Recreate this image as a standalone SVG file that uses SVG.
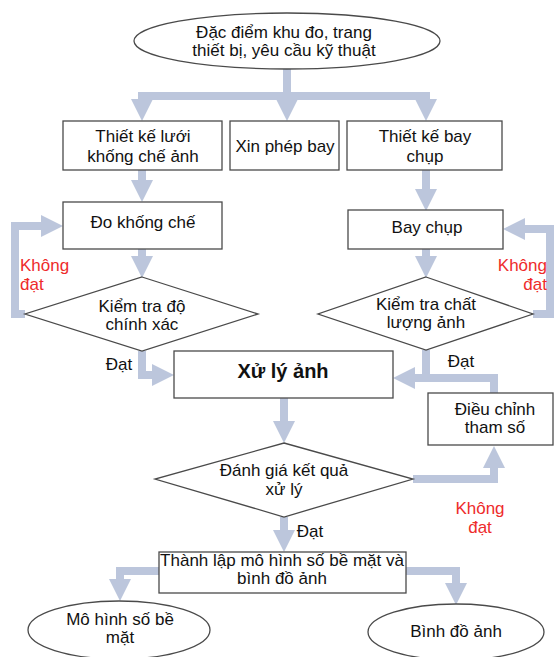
<svg xmlns="http://www.w3.org/2000/svg" width="554" height="657" viewBox="0 0 554 657">
  <style>
    .shape { fill: #ffffff; stroke: #4a4a4a; stroke-width: 1.3; }
    .lbl { font-family: "Liberation Sans", Arial, sans-serif; font-size: 17px; fill: #111111; text-anchor: middle; }
    .bold { font-weight: bold; font-size: 20px; }
    .red { fill: #ee2b2b; }
    .start { text-anchor: start; }
    .end { text-anchor: end; }
    .flow { fill: none; stroke: #bcc6dc; stroke-width: 8; stroke-linejoin: miter; }
    .flow-head { fill: none; stroke: #bcc6dc; stroke-width: 8; marker-end: url(#head); }
  </style>
  <defs>
    <marker id="head" viewBox="0 0 22 22" markerWidth="22" markerHeight="22" markerUnits="userSpaceOnUse" refX="0" refY="11" orient="auto">
      <path d="M0,0 L22,11 L0,22 z" fill="#bcc6dc"/>
    </marker>
  </defs>
  <rect width="554" height="657" fill="#ffffff"/>

  <!-- connectors -->
  <g id="connectors">
    <path class="flow" d="M138,96 H430"/>
    <path class="flow-head" d="M287,68 V99"/>
    <path class="flow-head" d="M142,92 V99"/>
    <path class="flow-head" d="M426,92 V99"/>
    <path class="flow-head" d="M142,170 V180"/>
    <path class="flow-head" d="M426,170 V189"/>
    <path class="flow-head" d="M142,249 V256"/>
    <path class="flow-head" d="M426,249 V256"/>
    <path class="flow-head" d="M25,314 H15 V226 H41"/>
    <path class="flow-head" d="M533,314 H550 V229 H525"/>
    <path class="flow-head" d="M142,351 V375 H152"/>
    <path class="flow-head" d="M426,350 V378 H415"/>
    <path class="flow" d="M494,393 V378 H426"/>
    <path class="flow-head" d="M284,398 V421"/>
    <path class="flow-head" d="M413,479 H494 V468"/>
    <path class="flow-head" d="M284,517 V530"/>
    <path class="flow-head" d="M159,571 H120 V579"/>
    <path class="flow-head" d="M406,571 H456 V583"/>
  </g>

  <!-- flow labels -->
  <g id="labels">
    <text class="lbl red start" x="20" y="271">Không</text>
    <text class="lbl red start" x="20" y="290">đạt</text>
    <text class="lbl red end" x="547" y="271">Không</text>
    <text class="lbl red end" x="547" y="290">đạt</text>
    <text class="lbl" x="119" y="370">Đạt</text>
    <text class="lbl" x="461" y="367">Đạt</text>
    <text class="lbl red" x="480" y="514">Không</text>
    <text class="lbl red" x="480" y="533">đạt</text>
    <text class="lbl" x="310" y="537">Đạt</text>
  </g>

  <g id="n-input">
    <ellipse class="shape" cx="287" cy="41" rx="153" ry="28"/>
    <text class="lbl" x="284" y="38">Đặc điểm khu đo, trang</text>
    <text class="lbl" x="284" y="56">thiết bị, yêu cầu kỹ thuật</text>
  </g>

  <g id="n-grid-design">
    <rect class="shape" x="63" y="121" width="159" height="49"/>
    <text class="lbl" x="143" y="142">Thiết kế lưới</text>
    <text class="lbl" x="143" y="162">khống chế ảnh</text>
  </g>

  <g id="n-permit">
    <rect class="shape" x="230" y="121" width="109" height="49"/>
    <text class="lbl" x="285" y="152">Xin phép bay</text>
  </g>

  <g id="n-flight-design">
    <rect class="shape" x="347" y="121" width="155" height="49"/>
    <text class="lbl" x="425" y="142">Thiết kế bay</text>
    <text class="lbl" x="425" y="162">chụp</text>
  </g>

  <g id="n-control-survey">
    <rect class="shape" x="63" y="202" width="159" height="47"/>
    <text class="lbl" x="143" y="228">Đo khống chế</text>
  </g>

  <g id="n-flight">
    <rect class="shape" x="348" y="210" width="155" height="39"/>
    <text class="lbl" x="427" y="233">Bay chụp</text>
  </g>

  <g id="n-check-accuracy">
    <polygon class="shape" points="142,277 258,314 142,351 25,314"/>
    <text class="lbl" x="142" y="312">Kiểm tra độ</text>
    <text class="lbl" x="142" y="330">chính xác</text>
  </g>

  <g id="n-check-quality">
    <polygon class="shape" points="426,277 533,314 426,350 318,314"/>
    <text class="lbl" x="426" y="310">Kiểm tra chất</text>
    <text class="lbl" x="426" y="328">lượng ảnh</text>
  </g>

  <g id="n-processing">
    <rect class="shape" x="174" y="351" width="219" height="47"/>
    <text class="lbl bold" x="283" y="378">Xử lý ảnh</text>
  </g>

  <g id="n-adjust">
    <rect class="shape" x="428" y="393" width="125" height="52"/>
    <text class="lbl" x="495" y="415">Điều chỉnh</text>
    <text class="lbl" x="495" y="433">tham số</text>
  </g>

  <g id="n-evaluate">
    <polygon class="shape" points="284,443 413,479 284,517 155,479"/>
    <text class="lbl" x="284" y="476">Đánh giá kết quả</text>
    <text class="lbl" x="284" y="495">xử lý</text>
  </g>

  <g id="n-build">
    <rect class="shape" x="159" y="552" width="247" height="41"/>
    <text class="lbl" x="282" y="566">Thành lập mô hình số bề mặt và</text>
    <text class="lbl" x="282" y="584">bình đồ ảnh</text>
  </g>

  <g id="n-dsm">
    <ellipse class="shape" cx="119" cy="630" rx="91" ry="29"/>
    <text class="lbl" x="120" y="625">Mô hình số bề</text>
    <text class="lbl" x="120" y="643">mặt</text>
  </g>

  <g id="n-orthomosaic">
    <ellipse class="shape" cx="456" cy="632" rx="88" ry="28"/>
    <text class="lbl" x="456" y="637">Bình đồ ảnh</text>
  </g>
</svg>
